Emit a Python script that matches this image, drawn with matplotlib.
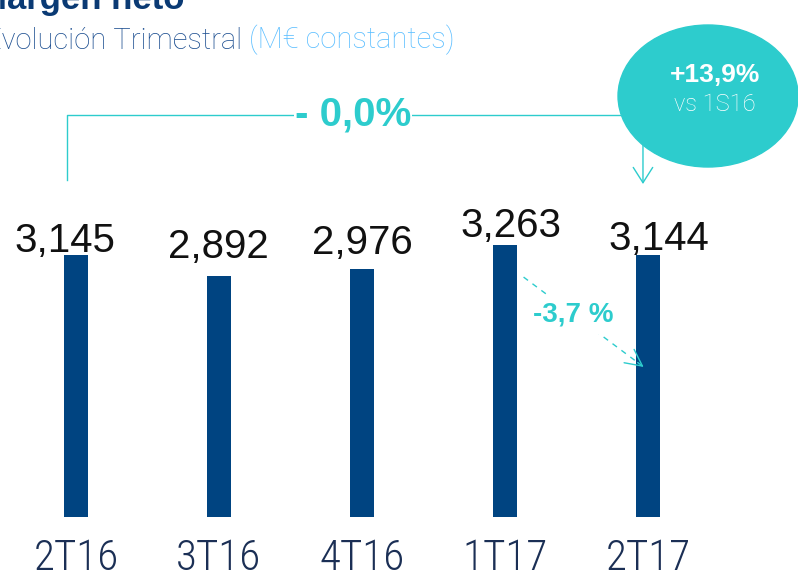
import matplotlib
matplotlib.use('Agg')
import matplotlib.pyplot as plt
from matplotlib import font_manager
from matplotlib.patches import Ellipse

# data
quarters = ['2T16', '3T16', '4T16', '1T17', '2T17']
margen = [3145, 2892, 2976, 3263, 3144]
value_labels = ['3,145', '2,892', '2,976', '3,263', '3,144']
var_total = '- 0,0%'
var_quarter = '-3,7 %'
var_semester = '+13,9%'
semester_ref = 'vs 1S16'

navy = '#004481'
aqua = '#2DCCCD'
W, H = 798, 580

# the original uses a condensed light face for the quarter labels
installed = {f.name for f in font_manager.fontManager.ttflist}
tick_font, tick_size = 'Roboto', 27
for name in ['Roboto Condensed', 'Liberation Sans Narrow', 'DejaVu Sans Condensed']:
    if name in installed:
        tick_font, tick_size = name, 31
        break
light_font = 'Roboto' if 'Roboto' in installed else 'Liberation Sans'

fig = plt.figure(figsize=(W / 100, H / 100), dpi=100)
ax = fig.add_axes([0, 0, 1, 1])
ax.set_xlim(-0.531, 5.049)
ax.set_ylim(-756, 6204)
ax.axis('off')

x = list(range(len(quarters)))
ax.bar(x, margen, width=0.168, color=navy, zorder=3)

# value labels (hand placed in the original, so small pixel nudges)
dx = [-11, -1, 0, 6, 11]
dy = [3, 18, 15, 8, 5]
for i, v in enumerate(margen):
    ax.annotate(value_labels[i], xy=(i, v), xytext=(dx[i], dy[i]),
                textcoords='offset pixels', ha='center', va='baseline',
                fontsize=29, family='Liberation Sans', color='#111111')

# category labels
for i, q in enumerate(quarters):
    ax.text(i, -636, q, ha='center', va='baseline', fontsize=tick_size,
            family=tick_font, weight='light', color='#1b2f55')

# bracket 2T16 -> 2T17
ytop = 4824
ax.plot([-0.063, -0.063, 4.2], [4044, ytop, ytop], color=aqua, lw=1.0, zorder=1)
ax.annotate('', xy=(3.965, 3996), xytext=(3.965, ytop),
            arrowprops=dict(arrowstyle='->,head_length=1.1,head_width=0.7',
                            color=aqua, lw=1.0, mutation_scale=10,
                            shrinkA=0, shrinkB=0),
            zorder=1)
ax.text(1.937, ytop, var_total, ha='center', va='center', fontsize=29,
        weight='bold', family='Liberation Sans', color=aqua, zorder=2,
        bbox=dict(facecolor='white', edgecolor='none', pad=1))

# bubble
ax.add_patch(Ellipse((4.42, 5052), 1.259, 1704, color=aqua, zorder=4))
ax.text(4.47, 5310, var_semester, ha='center', va='center', fontsize=19,
        weight='bold', family='Liberation Sans', color='white', zorder=5)
ax.text(4.47, 4950, semester_ref, ha='center', va='center', fontsize=17,
        family=light_font, weight='light', color='white', zorder=5)

# dashed arrow 1T17 -> 2T17
x0, y0 = 3.13, 2879
x1, y1 = 3.97, 1800
ax.plot([x0, x1], [y0, y1], color=aqua, lw=1.0, ls=(0, (4, 4)), zorder=2)
ax.annotate('', xy=(x1, y1), xytext=(x1 - 0.05 * (x1 - x0), y1 - 0.05 * (y1 - y0)),
            arrowprops=dict(arrowstyle='->,head_length=1.2,head_width=0.6',
                            color=aqua, lw=1.0, mutation_scale=10,
                            shrinkA=0, shrinkB=0),
            zorder=4)
ax.text(3.476, 2424, var_quarter, ha='center', va='center', fontsize=20,
        weight='bold', family='Liberation Sans', color=aqua, zorder=3,
        bbox=dict(facecolor='white', edgecolor='none', pad=4))

# titles, cut by the top/left edge as in the reference
fig.text(-22 / W, 1 - 9 / H, 'Margen neto', ha='left', va='baseline',
         fontsize=25, weight='bold', family='Liberation Sans', color='#0a3a74')
t1 = fig.text(-15 / W, 1 - 55 / H, 'Evolución Trimestral', ha='left', va='bottom',
              fontsize=21, family=light_font, weight='light', color='#1d4f91')
ax.annotate(' (M€ constantes)', xy=(1, 0), xycoords=t1, ha='left', va='bottom',
            fontsize=21, family=light_font, weight='light', color='#5bbeff',
            annotation_clip=False)

fig.savefig('out.png', dpi=100)
